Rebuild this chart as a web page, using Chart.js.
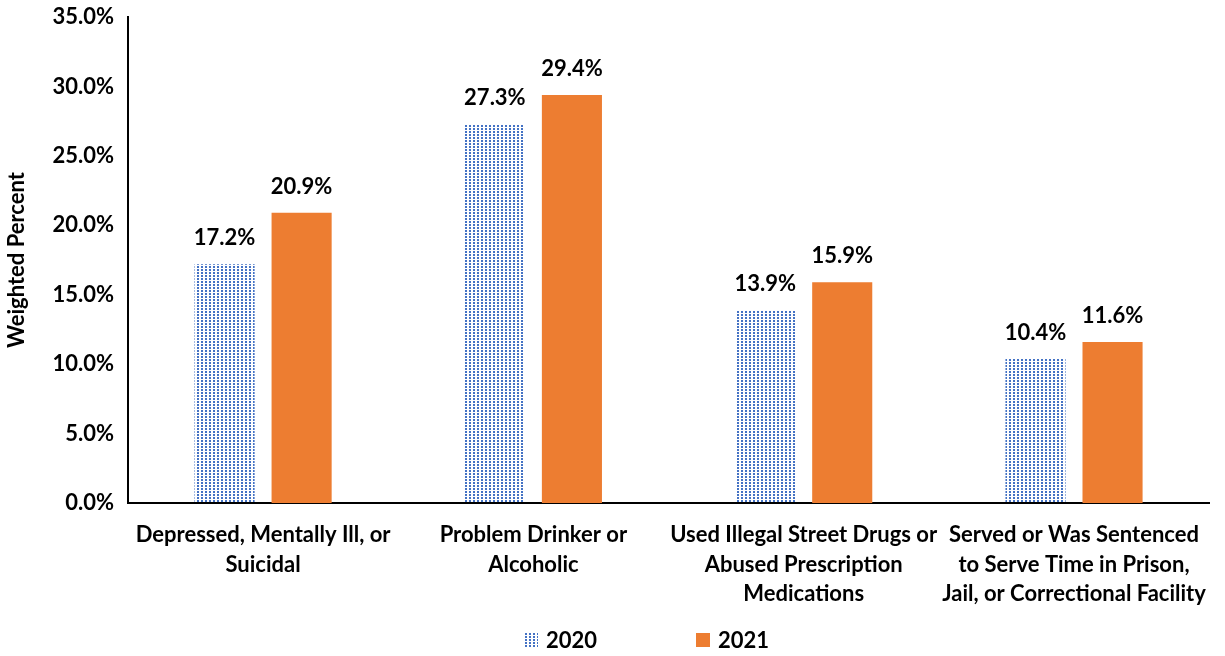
<!DOCTYPE html>
<html>
<head>
<meta charset="utf-8">
<script src="https://cdn.jsdelivr.net/npm/chart.js@4"></script>
<style>
  html, body { margin: 0; padding: 0; background: #fff; overflow: hidden; }
  #wrap { position: relative; width: 1225px; height: 656px; overflow: hidden; }
  #chart { position: absolute; left: 0; top: -10px; }
  #legend { position: absolute; left: 524px; top: 627px; display: flex; gap: 99px;
            font: bold 22px Lato, sans-serif; color: #000; line-height: 26px; }
  #legend span { display: flex; align-items: center; gap: 8px; }
  #legend canvas { width: 14px; height: 14px; }
</style>
</head>
<body>
<div id="wrap">
  <canvas id="chart" width="1225" height="666"></canvas>
  <div id="legend"></div>
</div>
<script>
const categories = [
    ["Depressed, Mentally Ill, or", "Suicidal"],
    ["Problem Drinker or", "Alcoholic"],
    ["Used Illegal Street Drugs or", "Abused Prescription", "Medications"],
    ["Served or Was Sentenced", "to Serve Time in Prison,", "Jail, or Correctional Facility"]
];
const seriesNames = ["2020", "2021"];
const values2020 = [17.2, 27.3, 13.9, 10.4];
const values2021 = [20.9, 29.4, 15.9, 11.6];

const BLUE = "#4472C4";
const ORANGE = "#ED7D31";

// small dotted tile used for the 2020 fill
function dotTile() {
    const tile = document.createElement("canvas");
    tile.width = 4; tile.height = 3;
    const t = tile.getContext("2d");
    t.fillStyle = BLUE;
    t.fillRect(1, 0, 2, 2);
    return tile;
}
const pattern = document.getElementById("chart").getContext("2d").createPattern(dotTile(), "repeat");

const valueLabels = {
    id: "valueLabels",
    afterDatasetsDraw(chart) {
        const ctx = chart.ctx;
        ctx.save();
        ctx.font = "bold 22px Lato, sans-serif";
        ctx.fillStyle = "#000";
        ctx.textAlign = "center";
        ctx.textBaseline = "middle";
        chart.data.datasets.forEach((ds, i) => {
            chart.getDatasetMeta(i).data.forEach((bar, j) => {
                ctx.fillText(ds.data[j].toFixed(1) + "%", bar.x, bar.y - 26);
            });
        });
        ctx.restore();
    }
};

const font = { family: "Lato, sans-serif", size: 22, weight: "bold" };

new Chart(document.getElementById("chart").getContext("2d"), {
    type: "bar",
    data: {
        labels: categories,
        datasets: [
            { label: seriesNames[0], data: values2020, backgroundColor: pattern },
            { label: seriesNames[1], data: values2021, backgroundColor: ORANGE }
        ]
    },
    options: {
        responsive: false,
        animation: false,
        layout: { padding: { top: 0, right: 9, bottom: 30, left: 4 } },
        datasets: { bar: { categoryPercentage: 0.57, barPercentage: 0.78 } },
        scales: {
            x: {
                grid: { display: false, drawTicks: false },
                border: { color: "#000", width: 2 },
                ticks: { color: "#000", font: { ...font, lineHeight: 1.32 }, maxRotation: 0, autoSkip: false, padding: 18 }
            },
            y: {
                min: 0, max: 35,
                grid: { display: false, drawTicks: false },
                border: { color: "#000", width: 2 },
                ticks: { stepSize: 5, color: "#000", font, padding: 14, callback: v => v.toFixed(1) + "%" },
                title: { display: true, text: "Weighted Percent", color: "#000", font, padding: { top: 0, bottom: 8 } }
            }
        },
        plugins: { legend: { display: false }, tooltip: { enabled: false } }
    },
    plugins: [valueLabels]
});

// legend below the chart, with the same fills as the bars
const legend = document.getElementById("legend");
[null, ORANGE].forEach((fill, i) => {
    const item = document.createElement("span");
    const sw = document.createElement("canvas");
    sw.width = 14; sw.height = 14;
    const c = sw.getContext("2d");
    c.fillStyle = fill || c.createPattern(dotTile(), "repeat");
    c.fillRect(0, 0, 14, 14);
    item.appendChild(sw);
    item.appendChild(document.createTextNode(seriesNames[i]));
    legend.appendChild(item);
});
</script>
</body>
</html>
